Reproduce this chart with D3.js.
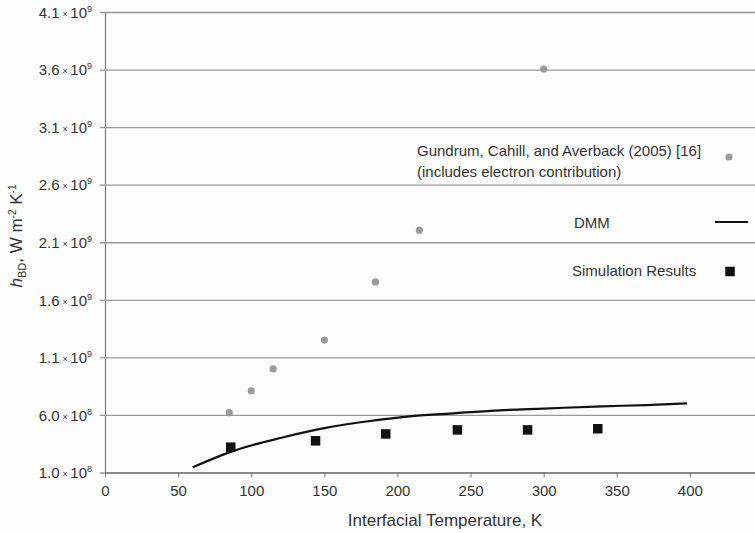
<!DOCTYPE html>
<html>
<head>
<meta charset="utf-8">
<script src="https://cdn.jsdelivr.net/npm/d3@7"></script>
<style>
  body { margin: 0; background: #fdfdfd; }
  svg { font-family: "Liberation Sans", Arial, sans-serif; }
</style>
</head>
<body>
<svg id="chart" width="755" height="533"></svg>
<script>
// ---- data ----
var gundrumT   = [85, 100, 115, 150, 185, 215, 300];
var gundrumH   = [6.2e8, 8.1e8, 1.0e9, 1.25e9, 1.755e9, 2.205e9, 3.605e9];

var dmmT       = [60, 85, 100, 120, 150, 180, 210, 240, 270, 300, 340, 370, 398];
var dmmH       = [1.45e8, 2.75e8, 3.35e8, 4.0e8, 4.85e8, 5.45e8, 5.9e8, 6.15e8, 6.4e8, 6.55e8, 6.75e8, 6.85e8, 7.0e8];

var simT       = [86, 144, 192, 241, 289, 337];
var simH       = [3.2e8, 3.75e8, 4.35e8, 4.7e8, 4.7e8, 4.8e8];

var yTicks     = [1.0e8, 6.0e8, 1.1e9, 1.6e9, 2.1e9, 2.6e9, 3.1e9, 3.6e9, 4.1e9];
var xTicks     = [0, 50, 100, 150, 200, 250, 300, 350, 400];

var legendLabels = [
  ["Gundrum, Cahill, and Averback (2005) [16]", "(includes electron contribution)"],
  ["DMM"],
  ["Simulation Results"]
];

var chart_vars = {
  left: 105,
  top: 12,
  bottom: 472.5,
  right: 755
};

var svg = d3.select("svg#chart");

var xScale = d3.scaleLinear().domain([0, 450]).range([chart_vars.left, 763]);
var yScale = d3.scaleLinear().domain([1e8, 4.1e9]).range([chart_vars.bottom, chart_vars.top]);

// y axis with gridlines
var axis_left = d3.axisLeft(yScale)
  .tickValues(yTicks)
  .tickSizeInner(-(chart_vars.right - chart_vars.left))
  .tickSizeOuter(0)
  .tickPadding(13)
  .tickFormat("");

var gy = svg.append("g")
  .attr("class", "axis axis--y")
  .attr("transform", "translate(" + chart_vars.left + ",0)")
  .call(axis_left);

gy.select("path.domain").attr("stroke", "#7a7a7a").attr("stroke-width", 1.2);
gy.selectAll("g.tick line").attr("x1", -5).attr("stroke", "#9a9a9a").attr("stroke-width", 1.3);

// tick labels like "4.1 × 10⁹"
gy.selectAll("g.tick text").each(function(d) {
  var exp = Math.floor(Math.log10(d));
  var mant = (d / Math.pow(10, exp)).toFixed(1);
  var t = d3.select(this)
    .attr("fill", "#333")
    .attr("font-size", 15)
    .attr("dy", "0.35em");
  t.append("tspan").text(mant);
  t.append("tspan").attr("font-size", 9).attr("dx", 3).attr("dy", -1).text("\u00d7");
  t.append("tspan").attr("dx", 2.5).attr("dy", 1).text("10");
  t.append("tspan").attr("font-size", 9).attr("dy", -6).text(exp);
});

// x axis
var axis_bottom = d3.axisBottom(xScale)
  .tickValues(xTicks)
  .tickSizeInner(5)
  .tickSizeOuter(0)
  .tickPadding(8);

var gx = svg.append("g")
  .attr("class", "axis axis--x")
  .attr("transform", "translate(0," + chart_vars.bottom + ")")
  .call(axis_bottom);

gx.select("path.domain").attr("stroke", "#7a7a7a").attr("stroke-width", 1.3);
gx.selectAll("g.tick line").attr("stroke", "#7a7a7a");
gx.selectAll("g.tick text").attr("fill", "#333").attr("font-size", 15);
gy.attr("font-family", "Liberation Sans, Arial, sans-serif");
gx.attr("font-family", "Liberation Sans, Arial, sans-serif");

// DMM curve
var line = d3.line()
  .x(function(d, i) { return xScale(dmmT[i]); })
  .y(function(d) { return yScale(d); })
  .curve(d3.curveMonotoneX);

svg.append("path")
  .datum(dmmH)
  .attr("d", line)
  .attr("fill", "none")
  .attr("stroke", "#111")
  .attr("stroke-width", 2.2);

// Gundrum points
svg.append("g").selectAll("circle")
  .data(gundrumH)
  .enter()
  .append("circle")
  .attr("cx", function(d, i) { return xScale(gundrumT[i]); })
  .attr("cy", function(d) { return yScale(d); })
  .attr("r", 3.6)
  .attr("fill", "#9a9a9a");

// simulation squares
var sq = 9.5;
svg.append("g").selectAll("rect")
  .data(simH)
  .enter()
  .append("rect")
  .attr("x", function(d, i) { return xScale(simT[i]) - sq / 2; })
  .attr("y", function(d) { return yScale(d) - sq / 2; })
  .attr("width", sq)
  .attr("height", sq)
  .attr("fill", "#111");

// legend
var lg = svg.append("g").attr("font-size", 15).attr("fill", "#333");

lg.append("text").attr("x", 417).attr("y", 156).text(legendLabels[0][0]);
lg.append("text").attr("x", 417).attr("y", 177).text(legendLabels[0][1]);
lg.append("circle").attr("cx", 729).attr("cy", 157).attr("r", 3.6).attr("fill", "#9a9a9a");

lg.append("text").attr("x", 574).attr("y", 228).text(legendLabels[1][0]);
lg.append("line").attr("x1", 715).attr("x2", 748).attr("y1", 222).attr("y2", 222)
  .attr("stroke", "#111").attr("stroke-width", 2.2);

lg.append("text").attr("x", 572).attr("y", 276).text(legendLabels[2][0]);
lg.append("rect").attr("x", 730 - sq / 2).attr("y", 271.5 - sq / 2).attr("width", sq).attr("height", sq).attr("fill", "#111");

// axis titles
svg.append("text")
  .attr("x", 445)
  .attr("y", 526)
  .attr("text-anchor", "middle")
  .attr("font-size", 17)
  .attr("fill", "#333")
  .text("Interfacial Temperature, K");

var yt = svg.append("text")
  .attr("transform", "translate(22,236) rotate(-90)")
  .attr("text-anchor", "middle")
  .attr("font-size", 17)
  .attr("fill", "#333");
yt.append("tspan").attr("font-style", "italic").text("h");
yt.append("tspan").attr("font-size", 11).attr("dy", 4).text("BD");
yt.append("tspan").attr("dy", -4).text(", W m");
yt.append("tspan").attr("font-size", 10).attr("dy", -6).text("-2");
yt.append("tspan").attr("dy", 6).text(" K");
yt.append("tspan").attr("font-size", 10).attr("dy", -6).text("-1");
</script>
</body>
</html>
